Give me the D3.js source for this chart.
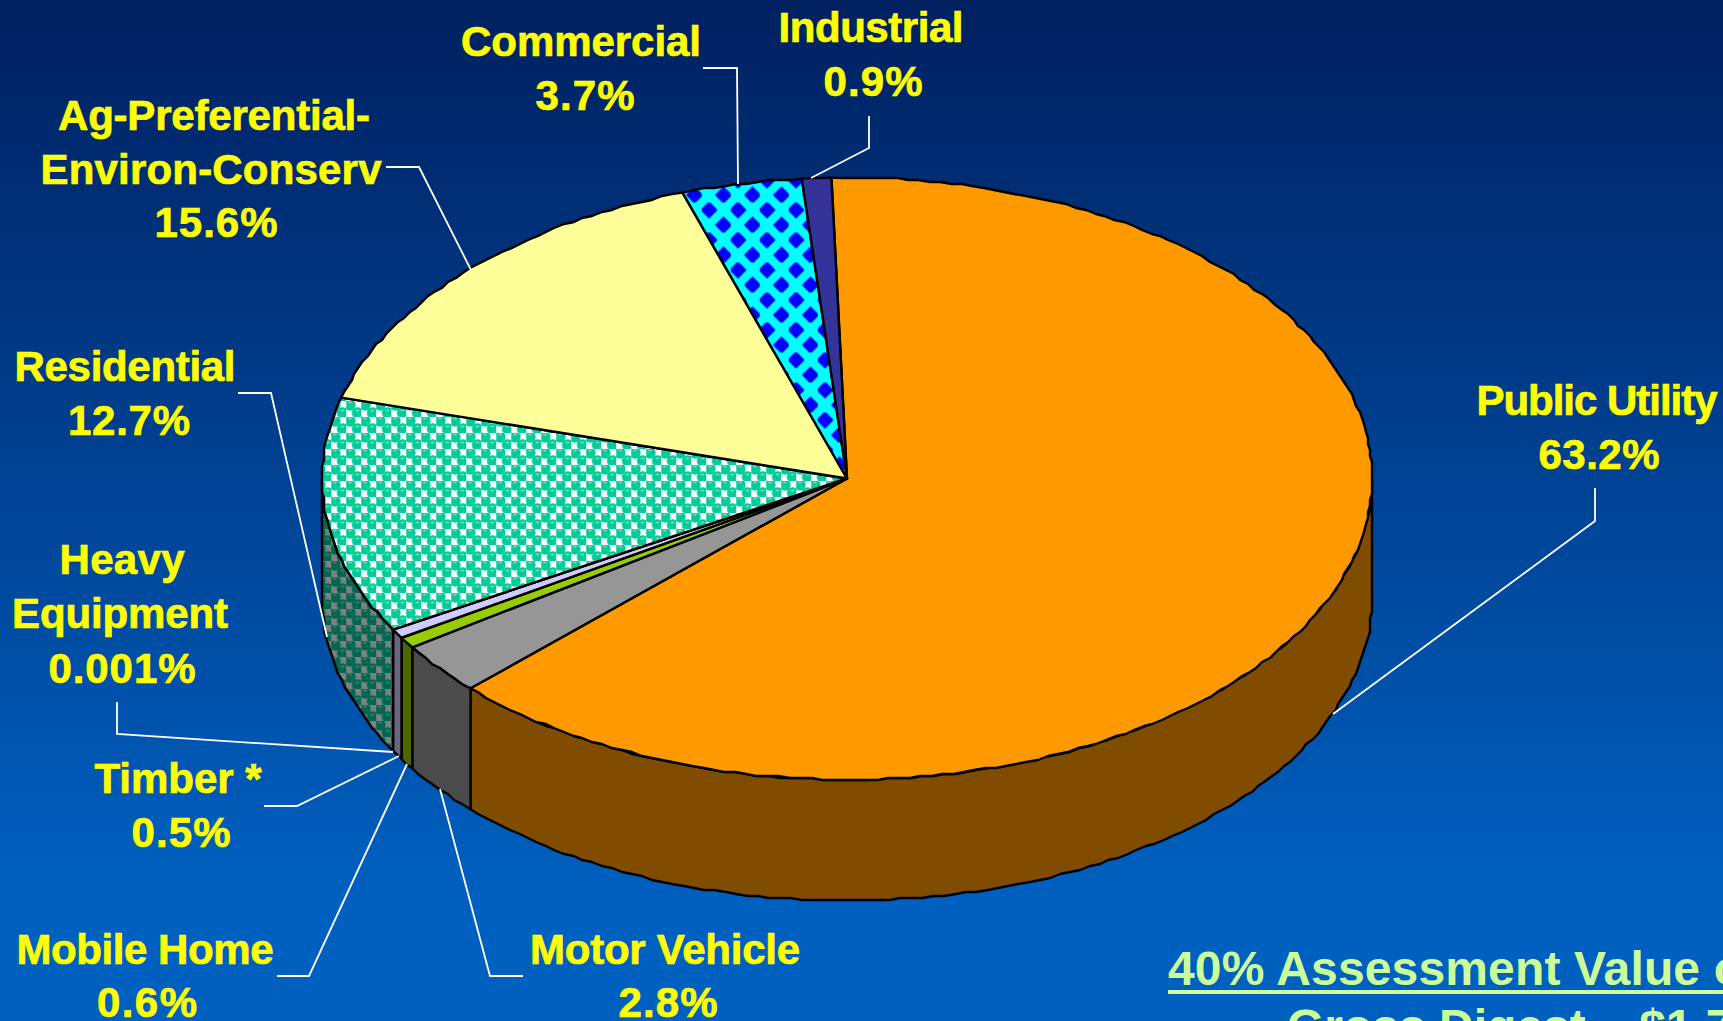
<!DOCTYPE html>
<html>
<head>
<meta charset="utf-8">
<script src="https://cdn.jsdelivr.net/npm/d3@7"></script>
<style>
    html, body { margin: 0; padding: 0; overflow: hidden; background: #0060c0; }
    text { font-family: "Liberation Sans", Arial, sans-serif; font-weight: bold; text-anchor: middle; }
</style>
</head>
<body>
<div id="chart"></div>
<script>
// values, clockwise from the top
var categories = ['Public Utility', 'Motor Vehicle', 'Mobile Home', 'Timber *', 'Heavy Equipment', 'Residential', 'Ag-Preferential-Environ-Conserv', 'Commercial', 'Industrial'];
var values = [63.2, 2.8, 0.6, 0.5, 0.001, 12.7, 15.6, 3.7, 0.9];
var value_labels = ['63.2%', '2.8%', '0.6%', '0.5%', '0.001%', '12.7%', '15.6%', '3.7%', '0.9%'];
var footnote_lines = ['40% Assessment Value of', 'Gross Digest \u2013 $1.7'];

var width = 1723, height = 1021;
var cx = 847, cy = 478.5, rx = 525, ry = 301, depth = 121;
var start_angle = -1.7 * Math.PI / 180;

var top_fill = ['#ff9900', '#969696', '#99cc00', '#ccccff', '#ccccff', 'url(#bubbles)', '#ffff99', 'url(#diamonds)', '#333399'];
var side_fill = ['#804d00', '#4b4b4b', '#4d6600', '#666680', '#666680', 'url(#bubbles_dark)', '#808050', '#000080', '#1a1a4d'];

// label lines, one entry per category: text (null = the value), centre x, baseline, width on the slide
var label_layout = [
    [['Public Utility', 1597, 415, 241], [null, 1599, 469, 121]],
    [['Motor Vehicle', 665, 964, 270], [null, 668, 1017, 99]],
    [['Mobile Home', 145, 964, 257], [null, 147, 1017, 100]],
    [['Timber *', 178, 793, 167], [null, 181, 847, 99]],
    [['Heavy', 122, 574, 125], ['Equipment', 120, 628, 216], [null, 122, 683, 147]],
    [['Residential', 125, 381, 221], [null, 129, 435, 122]],
    [['Ag-Preferential-', 214, 130, 312], ['Environ-Conserv', 211, 184, 341], [null, 216, 237, 123]],
    [['Commercial', 581, 56, 240], [null, 585, 110, 99]],
    [['Industrial', 871, 42, 185], [null, 873, 96, 99]]
];
var leader_layout = [
    [[1595, 488], [1595, 521], [1333, 714]],
    [[523, 976], [490, 976], [440, 789]],
    [[277, 976], [309, 976], [407, 764]],
    [[264, 806], [297, 806], [399, 756]],
    [[117, 702], [117, 734], [393, 752]],
    [[238, 393], [271, 393], [327, 637]],
    [[386, 167], [419, 167], [471, 270]],
    [[703, 68], [737, 68], [738, 184]],
    [[869, 116], [869, 148], [811, 178]]
];

var svg = d3.select('#chart').append('svg').attr('width', width).attr('height', height).style('display', 'block');
var defs = svg.append('defs');

var gradient = defs.append('linearGradient').attr('id', 'background').attr('x1', 0).attr('y1', 0).attr('x2', 0).attr('y2', 1);
gradient.append('stop').attr('offset', '0%').attr('stop-color', '#002060');
gradient.append('stop').attr('offset', '88%').attr('stop-color', '#0060c0');

function bubble_pattern(id, paper, ball, shine) {
    var w = 15, h = 16;
    var pattern = defs.append('pattern').attr('id', id).attr('patternUnits', 'userSpaceOnUse')
        .attr('width', w).attr('height', h).attr('patternTransform', 'translate(406.25,449)');
    pattern.append('rect').attr('width', w).attr('height', h).attr('fill', paper);
    [[w / 4, h / 4], [3 * w / 4, 3 * h / 4]].forEach(function (p) {
        pattern.append('circle').attr('cx', p[0]).attr('cy', p[1]).attr('r', 5.7).attr('fill', ball);
        pattern.append('ellipse').attr('cx', p[0]).attr('cy', p[1] - 2.6).attr('rx', 2).attr('ry', 1).attr('fill', shine);
    });
}
bubble_pattern('bubbles', '#ffffff', '#00cc99', '#66e0c2');
bubble_pattern('bubbles_dark', '#808080', '#006650', '#338573');

var diamonds = defs.append('pattern').attr('id', 'diamonds').attr('patternUnits', 'userSpaceOnUse')
    .attr('width', 29).attr('height', 30).attr('patternTransform', 'translate(730.75,202.5)');
diamonds.append('rect').attr('width', 29).attr('height', 30).attr('fill', '#00ffff');
[[7.25, 7.5], [21.75, 22.5]].forEach(function (p) {
    diamonds.append('path')
        .attr('d', 'M' + (p[0] - 7.2) + ',' + p[1] + 'L' + p[0] + ',' + (p[1] - 7.4) + 'L' + (p[0] + 7.2) + ',' + p[1] + 'L' + p[0] + ',' + (p[1] + 7.4) + 'Z')
        .attr('fill', '#0000ff').attr('stroke', '#0000ff').attr('stroke-width', 2).attr('stroke-linejoin', 'round');
});

svg.append('rect').attr('width', width).attr('height', height).attr('fill', 'url(#background)');

var pie = d3.pie().sort(null).startAngle(start_angle).endAngle(start_angle + 2 * Math.PI);
var slices = pie(values);

var x_scale = d3.scaleLinear().domain([-1, 1]).range([cx - rx, cx + rx]);
var y_scale = d3.scaleLinear().domain([-1, 1]).range([cy - ry, cy + ry]);

// the slide's rim is a coarse polyline, so walk the ellipse and snap to a small grid
var grid = 2, step = 1.2 * Math.PI / 180;
function rim(angle, drop) {
    return [x_scale(Math.sin(angle)), y_scale(-Math.cos(angle)) + drop];
}
function rim_points(a, b, drop) {
    var pts = [rim(a, drop)];
    var n = Math.max(1, Math.round(Math.abs(b - a) / step));
    for (var i = 1; i < n; i++) {
        var p = rim(a + (b - a) * i / n, drop);
        pts.push([Math.round(p[0] / grid) * grid, Math.round(p[1] / grid) * grid]);
    }
    pts.push(rim(b, drop));
    return pts;
}
var outline = d3.line();
function top_path(d) {
    return outline([[cx, cy]].concat(rim_points(d.startAngle, d.endAngle, 0))) + 'Z';
}
function side_path(d) {
    var a = Math.max(d.startAngle, Math.PI / 2), b = Math.min(d.endAngle, 3 * Math.PI / 2);
    if (b <= a) return null;
    return outline(rim_points(a, b, 0).concat(rim_points(b, a, depth))) + 'Z';
}

var pie_group = svg.append('g').attr('class', 'pie');
pie_group.selectAll('path.side').data(slices).enter().append('path')
    .attr('class', 'side')
    .attr('d', side_path)
    .attr('fill', function (d, i) { return side_fill[i]; })
    .attr('stroke', '#000').attr('stroke-width', 2.4).attr('stroke-linejoin', 'round');
pie_group.selectAll('path.top').data(slices).enter().append('path')
    .attr('class', 'top')
    .attr('d', top_path)
    .attr('fill', function (d, i) { return top_fill[i]; })
    .attr('stroke', '#000').attr('stroke-width', 2.4).attr('stroke-linejoin', 'round');

// leader lines
var leader = d3.line();
svg.append('g').attr('class', 'leaders').selectAll('path').data(leader_layout).enter().append('path')
    .attr('d', function (d) { return leader(d); })
    .attr('fill', 'none').attr('stroke', '#fff').attr('stroke-width', 1.8);

// labels
var labels = svg.append('g').attr('class', 'labels').attr('fill', '#ffff00')
    .attr('stroke', '#ffff00').attr('stroke-width', 0.7).style('font-size', '42px');
categories.forEach(function (name, i) {
    label_layout[i].forEach(function (line) {
        labels.append('text').attr('x', line[1]).attr('y', line[2])
            .attr('textLength', line[3]).attr('lengthAdjust', 'spacing')
            .text(line[0] === null ? value_labels[i] : line[0]);
    });
});

// note in the bottom right corner, runs off the slide
var note = svg.append('g').attr('class', 'note').attr('fill', '#ccff99').style('font-size', '48px');
note.append('text').attr('x', 1168).attr('y', 985).style('text-anchor', 'start').style('letter-spacing', '0.15px').text(footnote_lines[0]);
note.append('rect').attr('x', 1168).attr('y', 990).attr('width', width - 1168).attr('height', 4);
note.append('text').attr('x', 1287).attr('y', 1043).style('text-anchor', 'start').text(footnote_lines[1]);
</script>
</body>
</html>
